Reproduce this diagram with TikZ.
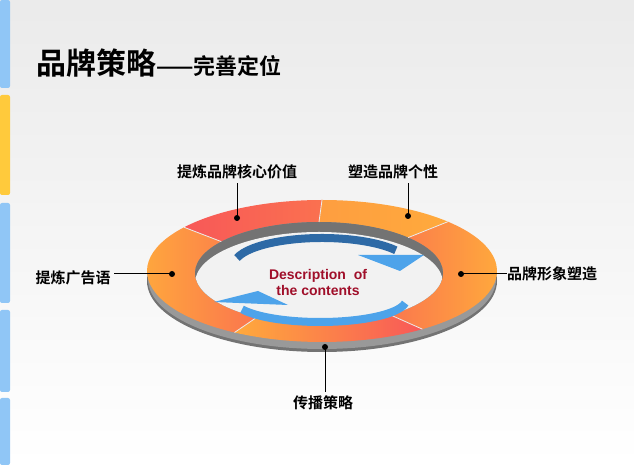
\documentclass[tikz,border=0pt]{standalone}
\usepackage{fontspec}
\newfontfamily\cjk{Noto Sans CJK SC Bold}
\setmainfont{Liberation Sans}
\usetikzlibrary{calc}
\definecolor{ora}{HTML}{FFAA3C}
\definecolor{rd}{HTML}{F85858}
\definecolor{stripb}{HTML}{90C6F6}
\definecolor{stripy}{HTML}{FFCA3C}
\definecolor{arrb}{HTML}{4DA3EA}
\definecolor{arrd}{HTML}{2E6AA6}
\definecolor{desc}{HTML}{A00F2A}
\tikzset{
  lbl/.style={font=\cjk\fontsize{15}{15}\selectfont, inner sep=0pt},
  lead/.style={line width=1pt, black},
  dotc/.style={fill=black, circle, inner sep=0pt, minimum size=6pt},
  divl/.style={white!85!gray, line width=0.8pt},
  strip/.style={rounded corners=2pt},
}
\begin{document}
\begin{tikzpicture}[x=1pt,y=1pt]
\useasboundingbox (0,0) rectangle (634,465);
\shade[top color=black!8, bottom color=white] (0,0) rectangle (634,465);
% left strip
\fill[stripb,strip] (0,377) rectangle (10,465);
\fill[stripy,strip] (0,270) rectangle (10,370);
\fill[stripb,strip] (0,162) rectangle (10,262);
\fill[stripb,strip] (0,73) rectangle (10,155);
\fill[stripb,strip] (0,0) rectangle (10,67);
% title
\node[anchor=west, inner sep=0pt] (title) at (36,402)
  {\cjk\fontsize{30}{30}\selectfont 品牌策略\fontsize{22}{22}\selectfont ——完善定位};
% ring side wall
\coordinate (c) at (322,194);
\coordinate (ci) at (319,192);
\fill[black!55] (322,184) ellipse[x radius=175,y radius=71];
\fill[black!40] (322,186) ellipse[x radius=174,y radius=70];
% segments
\def\seg#1#2#3#4#5{%
  \shade[shading angle=#5, left color=#3, right color=#4]
    (c) ++(#1:175 and 71) arc[start angle=#1,end angle=#2,x radius=175,y radius=71]
    -- ($(ci)+(#2:124 and 51)$) arc[start angle=#2,end angle=#1,x radius=124,y radius=51] -- cycle;}
\seg{90}{142}{rd}{rd!70!ora}{0}
\seg{44}{90}{ora!85!rd}{ora}{0}
\seg{-55}{44}{rd}{ora}{90}
\seg{-120}{-55}{ora}{rd}{0}
\seg{142}{240}{ora}{rd}{90}
% inner hole
\fill[black!55] (ci) ellipse[x radius=124,y radius=51];
\begin{scope}
\clip (ci) ellipse[x radius=124,y radius=51];
\fill[black!5] (319,182) ellipse[x radius=124,y radius=51];
\end{scope}
% dividers
\foreach \a in {90,44,-55,-120,142}
  \draw[divl] ($(ci)+(\a:124 and 51)$) -- ($(c)+(\a:175 and 71)$);
% arrows
\draw[arrd, line width=8pt]
  (322,200) ++(165:88 and 27) arc[start angle=165,end angle=33,x radius=88,y radius=27];
\fill[arrb] (358,210) -- (424,210) -- (400,194) -- cycle;
\draw[arrb, line width=8pt]
  (320,165) ++(-8:86 and 22) arc[start angle=-8,end angle=-155,x radius=86,y radius=22];
\fill[arrb] (214,163) -- (258,174) -- (288,160) -- cycle;
\node[font=\bfseries\fontsize{14}{16}\selectfont, text=desc, align=center] (d) at (318,182)
  {Description\ \ of\\the contents};
% labels
\node[lbl] (l1) at (237,293) {提炼品牌核心价值};
\node[lbl] (l2) at (393,293) {塑造品牌个性};
\node[lbl, anchor=west] (l3) at (507,191) {品牌形象塑造};
\node[lbl] (l4) at (73,187) {提炼广告语};
\node[lbl] (l5) at (323,62) {传播策略};
\node[dotc] (p1) at (237,247) {};
\node[dotc] (p2) at (408,249) {};
\node[dotc] (p3) at (461,191) {};
\node[dotc] (p4) at (172,191) {};
\node[dotc] (p5) at (325,118) {};
\draw[lead] (p1.center) -- (237,282);
\draw[lead] (p2.center) -- (408,282);
\draw[lead] (p3.center) -- (l3.west);
\draw[lead] (p4.center) -- (114,191);
\draw[lead] (p5.center) -- (325,73);
\end{tikzpicture}
\end{document}
